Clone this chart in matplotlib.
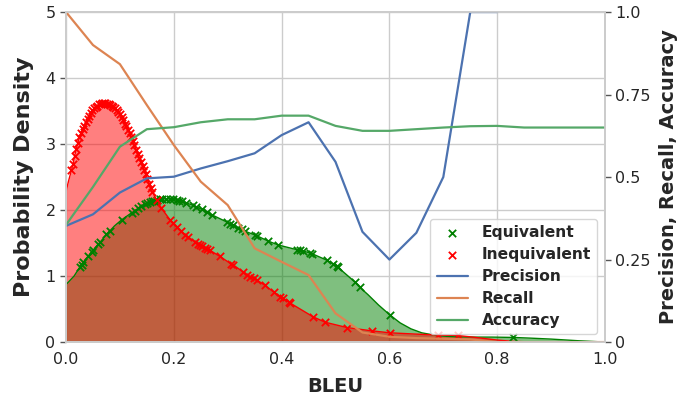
import numpy as np
import matplotlib
matplotlib.use("Agg")
import matplotlib.pyplot as plt
import seaborn as sns

sns.set_theme(style="whitegrid")
plt.rcParams['font.family'] = ['DejaVu Sans']

# ---- Density of BLEU for equivalent samples (markers = samples on density curve)
eq_mark_x = [0.026, 0.029, 0.032, 0.041, 0.048, 0.050, 0.060, 0.063, 0.075, 0.082,
             0.103, 0.122, 0.128, 0.134, 0.140, 0.147, 0.151, 0.155, 0.159, 0.163,
             0.168, 0.174, 0.179, 0.186, 0.192, 0.199, 0.205, 0.210, 0.216, 0.223,
             0.236, 0.242, 0.252, 0.261, 0.270, 0.298, 0.304, 0.310, 0.320, 0.326,
             0.332, 0.351, 0.354, 0.375, 0.394, 0.428, 0.435, 0.440, 0.452, 0.456,
             0.484, 0.496, 0.502, 0.505, 0.536, 0.545, 0.601, 0.829]
eq_mark_y = [1.14, 1.17, 1.21, 1.30, 1.37, 1.39, 1.48, 1.51, 1.63, 1.69,
             1.85, 1.96, 1.99, 2.03, 2.06, 2.09, 2.10, 2.12, 2.13, 2.14,
             2.15, 2.16, 2.17, 2.17, 2.17, 2.16, 2.15, 2.14, 2.13, 2.11,
             2.07, 2.05, 2.01, 1.97, 1.93, 1.82, 1.79, 1.77, 1.73, 1.71,
             1.68, 1.62, 1.61, 1.53, 1.47, 1.40, 1.39, 1.38, 1.35, 1.34,
             1.24, 1.18, 1.15, 1.13, 0.91, 0.83, 0.41, 0.07]
eq_curve_x = [0.0, 0.015, 0.09, 0.56, 0.58, 0.62, 0.64, 0.66, 0.69, 0.72, 0.76,
              0.79, 0.86, 0.90, 0.95, 1.0]
eq_curve_y = [0.87, 1.00, 1.76, 0.72, 0.56, 0.29, 0.20, 0.14, 0.095, 0.08, 0.075,
              0.075, 0.06, 0.045, 0.02, 0.0]

# ---- Density of BLEU for inequivalent samples
ineq_mark_x = [0.010, 0.013, 0.016, 0.019, 0.022, 0.025, 0.028, 0.031, 0.034, 0.037,
               0.040, 0.043, 0.046, 0.049, 0.052, 0.055, 0.058, 0.061, 0.064, 0.067,
               0.070, 0.073, 0.076, 0.079, 0.082, 0.085, 0.088, 0.091, 0.094, 0.097,
               0.100, 0.103, 0.106, 0.109, 0.112, 0.115, 0.118, 0.121, 0.124, 0.127,
               0.130, 0.133, 0.136, 0.139, 0.142, 0.145, 0.148, 0.151, 0.154, 0.157,
               0.160, 0.168, 0.177, 0.193, 0.199, 0.205, 0.213, 0.221, 0.227, 0.239,
               0.244, 0.249, 0.253, 0.258, 0.262, 0.267, 0.285, 0.307, 0.310, 0.329,
               0.335, 0.341, 0.348, 0.354, 0.369, 0.385, 0.397, 0.403, 0.413, 0.416,
               0.459, 0.481, 0.521, 0.567, 0.601, 0.690, 0.727]
ineq_mark_y = [2.60, 2.70, 2.82, 2.92, 3.02, 3.10, 3.17, 3.23, 3.28, 3.33,
               3.38, 3.42, 3.47, 3.51, 3.54, 3.56, 3.58, 3.60, 3.61, 3.62,
               3.62, 3.62, 3.61, 3.60, 3.59, 3.58, 3.56, 3.54, 3.52, 3.48,
               3.45, 3.41, 3.36, 3.31, 3.27, 3.22, 3.17, 3.11, 3.05, 2.98,
               2.91, 2.85, 2.79, 2.73, 2.67, 2.61, 2.54, 2.47, 2.40, 2.34,
               2.28, 2.15, 2.03, 1.85, 1.80, 1.74, 1.68, 1.62, 1.59, 1.52,
               1.49, 1.47, 1.45, 1.43, 1.41, 1.39, 1.30, 1.18, 1.17, 1.06,
               1.02, 0.99, 0.97, 0.94, 0.86, 0.76, 0.69, 0.66, 0.61, 0.59,
               0.38, 0.30, 0.22, 0.17, 0.14, 0.106, 0.10]
ineq_curve_x = [0.0, 0.005, 0.65, 0.76, 0.80, 0.83, 0.87, 1.0]
ineq_curve_y = [2.28, 2.45, 0.12, 0.07, 0.03, 0.01, 0.0, 0.0]

# ---- Classification metrics by BLEU threshold
thr = [0.0, 0.05, 0.1, 0.15, 0.2, 0.25, 0.3, 0.35, 0.4, 0.45, 0.5, 0.55, 0.6,
       0.65, 0.7, 0.75, 0.8, 0.85, 0.9, 0.95, 1.0]
precision = [0.352, 0.387, 0.453, 0.496, 0.501, 0.526, 0.548, 0.572, 0.627, 0.666,
             0.546, 0.334, 0.250, 0.331, 0.500, 1.0, 1.0, np.nan, np.nan, np.nan, np.nan]
recall = [1.0, 0.90, 0.842, 0.718, 0.597, 0.486, 0.415, 0.284, 0.243, 0.203,
          0.087, 0.029, 0.016, 0.012, 0.010, 0.008, 0.0, 0.0, 0.0, 0.0, 0.0]
accuracy = [0.355, 0.47, 0.592, 0.645, 0.651, 0.666, 0.675, 0.675, 0.686, 0.686,
            0.655, 0.640, 0.640, 0.645, 0.650, 0.654, 0.655, 0.650, 0.650, 0.650, 0.650]

x_ticks = [0.0, 0.2, 0.4, 0.6, 0.8, 1.0]
left_ticks = [0, 1, 2, 3, 4, 5]
right_ticks = [0, 0.25, 0.5, 0.75, 1.0]
right_tick_labels = ['0', '0.25', '0.5', '0.75', '1.0']


def merged(mx, my, cx, cy):
    xs = np.array(list(mx) + list(cx))
    ys = np.array(list(my) + list(cy))
    o = np.argsort(xs)
    return xs[o], ys[o]


fig = plt.figure(figsize=(6.82, 4.01), dpi=100)
ax = fig.add_axes([0.0968, 0.147, 0.7903, 0.823])

ex, ey = merged(eq_mark_x, eq_mark_y, eq_curve_x, eq_curve_y)
ix, iy = merged(ineq_mark_x, ineq_mark_y, ineq_curve_x, ineq_curve_y)

ax.fill_between(ex, ey, color='green', alpha=0.5, linewidth=0)
ax.plot(ex, ey, color='green', linewidth=1)
ax.fill_between(ix, iy, color='red', alpha=0.5, linewidth=0)
ax.plot(ix, iy, color='red', linewidth=1)
sc1 = ax.scatter(eq_mark_x, eq_mark_y, marker='x', color='green', s=28, linewidths=1.3,
                 zorder=3, label='Equivalent')
sc2 = ax.scatter(ineq_mark_x, ineq_mark_y, marker='x', color='red', s=28, linewidths=1.3,
                 zorder=3, label='Inequivalent')

ax.set_xlim(0, 1)
ax.set_ylim(0, 5)
ax.set_xticks(x_ticks)
ax.set_yticks(left_ticks)
ax.set_xlabel('BLEU', fontsize=14, fontweight='bold', labelpad=7)
ax.set_ylabel('Probability Density', fontsize=16, fontweight='bold', labelpad=8)
ax.tick_params(axis='both', labelsize=11.5, colors='#262626', length=4, width=1,
               left=True, bottom=False)
ax.tick_params(axis='y', color='#555555')

ax2 = ax.twinx()
l1, = ax2.plot(thr, precision, color='#4C72B0', linewidth=1.6, label='Precision')
l2, = ax2.plot(thr, recall, color='#DD8452', linewidth=1.6, label='Recall')
l3, = ax2.plot(thr, accuracy, color='#55A868', linewidth=1.6, label='Accuracy')
ax2.set_ylim(0, 1)
ax2.set_yticks(right_ticks)
ax2.set_yticklabels(right_tick_labels)
ax2.grid(False)
ax2.tick_params(axis='y', labelsize=11.5, colors='#262626', length=4, width=1, right=True)
ax2.tick_params(axis='y', color='#555555')
ax2.set_ylabel('Precision, Recall, Accuracy', fontsize=14, fontweight='bold', labelpad=6)
for s in ax2.spines.values():
    s.set_color('#cccccc')

leg = ax2.legend([sc1, sc2, l1, l2, l3],
                 ['Equivalent', 'Inequivalent', 'Precision', 'Recall', 'Accuracy'],
                 loc='lower right',
                 prop={'weight': 'bold', 'size': 11.2}, handlelength=2.0,
                 handletextpad=0.9, borderpad=0.4, labelspacing=0.45, scatterpoints=1)
for t in leg.get_texts():
    t.set_color('#262626')

fig.savefig('out.png', dpi=100)
